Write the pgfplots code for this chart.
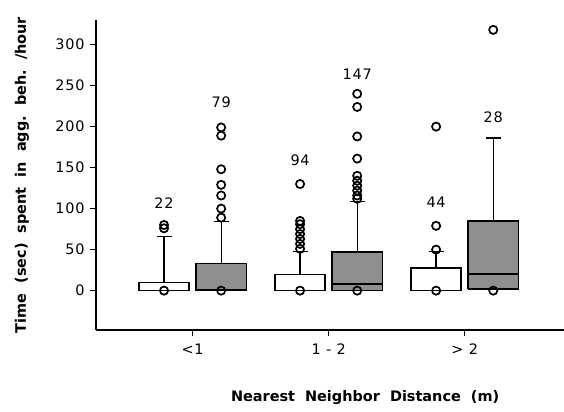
\documentclass[border=0pt]{standalone}
\usepackage{fontspec}
\setmainfont{DejaVu Sans}
\usepackage{pgfplots}
\pgfplotsset{compat=1.18}

\pgfplotsset{
    boxline/.style={black, line width=1.6bp, mark=none},
    wbox/.style={boxline, fill=white},
    sbox/.style={boxline, fill=black!44},
    whisk/.style={black, line width=1.3bp, mark=none},
    outl/.style={only marks, mark=o, mark size=4.1bp, line width=1.7bp, black},
}
\newcommand{\tickfont}{\fontsize{14.5}{16}\selectfont\addfontfeatures{LetterSpace=5}}
\newcommand{\labfont}{\bfseries\fontsize{14.5}{16}\selectfont}

\begin{document}
\begin{tikzpicture}
\path[use as bounding box] (-96bp,-82bp) rectangle (468bp,330bp);
\begin{axis}[
    at={(0,0)}, anchor=south west,
    scale only axis, width=468bp, height=310bp,
    xmin=0.29, xmax=3.73, ymin=-48, ymax=330,
    axis x line=bottom, axis y line=left,
    axis line style={-, line width=1.7bp},
    tick style={line width=1.4bp, black},
    tick align=outside, major tick length=6bp,
    xtick={1,2,3}, xticklabels={{<1},{1 - 2},{> 2}},
    ytick={0,50,...,300},
    /pgf/number format/assume math mode=true,
    tick label style={font=\tickfont},
    xticklabel style={yshift=-4bp},
    yticklabel style={xshift=-2bp},
    ylabel={Time\ \ (sec)\ \ spent\ \ in\ \ agg.\ \ beh.\ \ /hour},
    ylabel style={font=\labfont, at={(axis description cs:-0.158,0.5)}, anchor=center},
    xlabel={Nearest\ \ Neighbor\ \ Distance\ \ (m)},
    xlabel style={font=\labfont, at={(axis description cs:0.575,0)}, anchor=center, yshift=-68bp},
    clip=false,
]
% ---- <1 m, white (n=22): q3 10, median 0, whisker 66
\addplot[whisk] coordinates {(0.79,10) (0.79,66)};
\addplot[whisk] coordinates {(0.735,66) (0.845,66)};
\addplot[wbox] coordinates {(0.605,0) (0.975,0) (0.975,10) (0.605,10) (0.605,0)};
\addplot[outl] coordinates {(0.79,0) (0.79,76) (0.79,80)};
% ---- <1 m, shaded (n=79): q3 33, median 1.5, whisker 84
\addplot[whisk] coordinates {(1.21,33) (1.21,84)};
\addplot[whisk] coordinates {(1.155,84) (1.265,84)};
\addplot[sbox] coordinates {(1.025,0) (1.395,0) (1.395,33) (1.025,33) (1.025,0)};
\addplot[boxline] coordinates {(1.025,1.5) (1.395,1.5)};
\addplot[outl] coordinates {(1.21,0) (1.21,89) (1.21,100) (1.21,116) (1.21,129) (1.21,148) (1.21,189) (1.21,199)};
% ---- 1-2 m, white (n=94): q3 19.5, median 0, whisker 48
\addplot[whisk] coordinates {(1.79,19.5) (1.79,48)};
\addplot[whisk] coordinates {(1.735,48) (1.845,48)};
\addplot[wbox] coordinates {(1.605,0) (1.975,0) (1.975,19.5) (1.605,19.5) (1.605,0)};
\addplot[outl] coordinates {(1.79,0) (1.79,51) (1.79,57) (1.79,63) (1.79,69) (1.79,75) (1.79,81) (1.79,85) (1.79,130)};
% ---- 1-2 m, shaded (n=147): q3 47, median 8, whisker 109
\addplot[whisk] coordinates {(2.21,47) (2.21,109)};
\addplot[whisk] coordinates {(2.155,109) (2.265,109)};
\addplot[sbox] coordinates {(2.025,0) (2.395,0) (2.395,47) (2.025,47) (2.025,0)};
\addplot[boxline] coordinates {(2.025,8) (2.395,8)};
\addplot[outl] coordinates {(2.21,0) (2.21,112) (2.21,116) (2.21,122) (2.21,128) (2.21,134) (2.21,140) (2.21,161) (2.21,188) (2.21,224) (2.21,240)};
% ---- >2 m, white (n=44): q3 27.5, median 0, whisker 48
\addplot[whisk] coordinates {(2.79,27.5) (2.79,48)};
\addplot[whisk] coordinates {(2.735,48) (2.845,48)};
\addplot[wbox] coordinates {(2.605,0) (2.975,0) (2.975,27.5) (2.605,27.5) (2.605,0)};
\addplot[outl] coordinates {(2.79,0) (2.79,50) (2.79,79) (2.79,200)};
% ---- >2 m, shaded (n=28): q1 2, q3 85, median 20, whisker 186
\addplot[whisk] coordinates {(3.21,85) (3.21,186)};
\addplot[whisk] coordinates {(3.155,186) (3.265,186)};
\addplot[sbox] coordinates {(3.025,2) (3.395,2) (3.395,85) (3.025,85) (3.025,2)};
\addplot[boxline] coordinates {(3.025,20) (3.395,20)};
\addplot[outl] coordinates {(3.21,0) (3.21,318)};
% sample sizes
\begin{scope}[every node/.style={font=\tickfont}]
\node at (axis cs:0.79,107) {22};
\node at (axis cs:1.21,230) {79};
\node at (axis cs:1.79,159) {94};
\node at (axis cs:2.21,264) {147};
\node at (axis cs:2.79,108) {44};
\node at (axis cs:3.21,212) {28};
\end{scope}
\end{axis}
\end{tikzpicture}
\end{document}
